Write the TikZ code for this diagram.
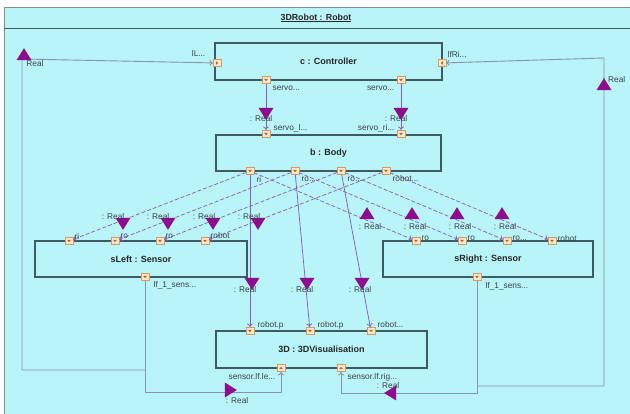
\documentclass[tikz,border=0pt]{standalone}
\usepackage{fontspec}
\setmainfont{Liberation Sans}
\usetikzlibrary{shapes.geometric,arrows.meta}
\definecolor{bg}{HTML}{B8F4F8}
\definecolor{frameline}{HTML}{7E9098}
\definecolor{boxline}{HTML}{3E5A62}
\definecolor{conn}{HTML}{8A5CB8}
\definecolor{loopc}{HTML}{8894AC}
\definecolor{flow}{HTML}{8E0C8E}
\definecolor{portfill}{HTML}{FBE8CC}
\definecolor{portline}{HTML}{D49A60}
\definecolor{portmark}{HTML}{B06A30}
\definecolor{txt}{HTML}{3A4248}
\tikzset{
  part/.style={draw=boxline, line width=1.2pt, fill=bg, inner sep=0pt,
    font=\bfseries\fontsize{9}{11}\selectfont, text=black!85},
  portbox/.style={rectangle, draw=portline, fill=portfill, line width=0.5pt,
    minimum size=7.5pt, inner sep=0pt},
  portd/.style={portbox, path picture={\fill[portmark] ([xshift=-1.8pt,yshift=1pt]path picture bounding box.center) -- ++(3.6pt,0) -- ++(-1.8pt,-2.2pt) -- cycle;}},
  portu/.style={portbox, path picture={\fill[portmark] ([xshift=-1.8pt,yshift=-1pt]path picture bounding box.center) -- ++(3.6pt,0) -- ++(-1.8pt,2.2pt) -- cycle;}},
  portr/.style={portbox, path picture={\fill[portmark] ([xshift=-1pt,yshift=1.8pt]path picture bounding box.center) -- ++(0,-3.6pt) -- ++(2.2pt,1.8pt) -- cycle;}},
  portl/.style={portbox, path picture={\fill[portmark] ([xshift=1pt,yshift=1.8pt]path picture bounding box.center) -- ++(0,-3.6pt) -- ++(-2.2pt,1.8pt) -- cycle;}},
  lbl/.style={font=\fontsize{8.3}{9}\selectfont, text=txt, inner sep=0.5pt},
  solidc/.style={draw=conn, line width=0.75pt, -{To[length=3.5pt,width=6pt]}},
  dashc/.style={draw=conn, line width=0.7pt, dash pattern=on 4pt off 2pt, -{To[length=3.5pt,width=6pt]}},
  loopa/.style={draw=loopc, line width=0.9pt, -{To[length=3.5pt,width=6pt]}},
  flowtri/.style={isosceles triangle, isosceles triangle stretches, fill=flow,
    minimum width=15pt, minimum height=12pt, inner sep=0pt},
}
\begin{document}
\begin{tikzpicture}[x=1pt,y=-1pt]
\useasboundingbox (0,0) rectangle (630,414);
\clip (0,0) rectangle (630,414);
\fill[white] (0,0) rectangle (630,414);
% frame
\draw[frameline, fill=bg, line width=1pt] (4,8) rectangle (640,424);
\draw[boxline, line width=0.9pt] (4,28) -- (640,28);
\node[font=\bfseries\fontsize{8.8}{10}\selectfont, text=black!85] (title) at (316,18) {\underline{3DRobot : Robot}};

% parts
\node[part, minimum width=227pt, minimum height=37pt] (ctrl) at (328.5,61.5) {c : Controller};
\node[part, minimum width=225pt, minimum height=36pt] (body) at (328.5,153) {b : Body};
\node[part, minimum width=212pt, minimum height=36pt] (sl) at (141,259) {sLeft : Sensor};
\node[part, minimum width=210pt, minimum height=36pt] (sr) at (488,259) {sRight : Sensor};
\node[part, minimum width=211pt, minimum height=37pt] (vis) at (321.5,349.5) {3D : 3DVisualisation};

% ports
\node[portr] (cl) at (217,63) {};
\node[portl] (cr) at (442,63) {};
\node[portd] (cb1) at (266,80) {};
\node[portd] (cb2) at (401,80) {};
\node[portd] (bt1) at (266,134) {};
\node[portd] (bt2) at (401,134) {};
\node[portd] (bb1) at (250,171) {};
\node[portd] (bb2) at (295,171) {};
\node[portd] (bb3) at (341,171) {};
\node[portd] (bb4) at (386,171) {};
\node[portd] (sl1) at (69,241) {};
\node[portd] (sl2) at (115,241) {};
\node[portd] (sl3) at (160,241) {};
\node[portd] (sl4) at (205,241) {};
\node[portd] (slb) at (145,277) {};
\node[portd] (sr1) at (416,241) {};
\node[portd] (sr2) at (462,241) {};
\node[portd] (sr3) at (507,241) {};
\node[portd] (sr4) at (552,241) {};
\node[portd] (srb) at (477,277) {};
\node[portd] (vt1) at (250,331) {};
\node[portd] (vt2) at (310,331) {};
\node[portd] (vt3) at (371,331) {};
\node[portu] (vb1) at (281,368) {};
\node[portu] (vb2) at (341,368) {};

% loop coordinates
\coordinate (jl) at (145,370);
\coordinate (ll1) at (22,370);
\coordinate (ll2) at (22,59);
\coordinate (bl1) at (145,392);
\coordinate (bl2) at (281,392);
\coordinate (jr) at (477,386);
\coordinate (rr1) at (604,386);
\coordinate (rr2) at (604,58);
\coordinate (br1) at (477,393);
\coordinate (br2) at (341,393);

% connectors
\draw[solidc] (cb1) -- (bt1);
\draw[solidc] (cb2) -- (bt2);
\foreach \i in {1,2,3,4} {
  \draw[dashc] (bb\i) -- (sl\i);
  \draw[dashc] (bb\i) -- (sr\i);
}
\draw[solidc] (bb1) -- (vt1);
\draw[solidc] (bb2) -- (vt2);
\draw[solidc] (bb3) -- (vt3);
\draw[loopa] (slb) -- (bl1) -- (bl2) -- (vb1);
\draw[loopa] (srb) -- (br1) -- (br2) -- (vb2);
\draw[loopa] (jl) -- (ll1) -- (ll2) -- (cl);
\draw[loopa] (jr) -- (rr1) -- (rr2) -- (cr);

% flow markers
\node[flowtri, shape border rotate=270] (f1) at (266,112) {};
\node[flowtri, shape border rotate=270] (f2) at (401,112) {};
\node[flowtri, shape border rotate=225] (f3) at (123,222) {};
\node[flowtri, shape border rotate=225] (f4) at (168,222) {};
\node[flowtri, shape border rotate=225] (f5) at (213,222) {};
\node[flowtri, shape border rotate=225] (f6) at (258,222) {};
\node[flowtri, shape border rotate=95] (f7) at (367,215) {};
\node[flowtri, shape border rotate=95] (f8) at (412,215) {};
\node[flowtri, shape border rotate=95] (f9) at (457,215) {};
\node[flowtri, shape border rotate=95] (f10) at (502,215) {};
\node[flowtri, shape border rotate=270] (f11) at (252,282) {};
\node[flowtri, shape border rotate=270] (f12) at (307,282) {};
\node[flowtri, shape border rotate=270] (f13) at (362,282) {};
\node[flowtri, shape border rotate=90] (f14) at (24,56) {};
\node[flowtri, shape border rotate=90] (f15) at (604,86) {};
\node[flowtri, shape border rotate=0] (f16) at (229,390) {};
\node[flowtri, shape border rotate=180] (f17) at (392,393) {};

% labels
\node[lbl, anchor=east] (t1) at (206,53) {lL...};
\node[lbl, anchor=west] (t2) at (447,54) {lfRi...};
\node[lbl, anchor=west] (t3) at (272,88) {servo...};
\node[lbl, anchor=east] (t4) at (395,88) {servo...};
\node[lbl] (t5) at (261,119) {: Real};
\node[lbl] (t6) at (396,119) {: Real};
\node[lbl, anchor=west] (t7) at (273,128) {servo\_l...};
\node[lbl, anchor=east] (t8) at (395,128) {servo\_ri...};
\node[lbl, anchor=west] (t9) at (256,179) {ri};
\node[lbl, anchor=west] (t10) at (301,179) {ro...};
\node[lbl, anchor=west] (t11) at (347,179) {ro...};
\node[lbl, anchor=west] (t12) at (392,179) {robot...};
\node[lbl] (t13) at (113,217) {: Real};
\node[lbl] (t14) at (158,217) {: Real};
\node[lbl] (t15) at (204,217) {: Real};
\node[lbl] (t16) at (249,217) {: Real};
\node[lbl, anchor=west] (t17) at (74,236) {ri};
\node[lbl, anchor=west] (t18) at (120,236) {ro};
\node[lbl, anchor=west] (t19) at (165,236) {ro};
\node[lbl, anchor=west] (t20) at (210,236) {robot};
\node[lbl] (t21) at (370,227) {: Real};
\node[lbl] (t22) at (415,227) {: Real};
\node[lbl] (t23) at (460,227) {: Real};
\node[lbl] (t24) at (505,227) {: Real};
\node[lbl, anchor=west] (t25) at (421,238.5) {ro};
\node[lbl, anchor=west] (t26) at (467,238.5) {ro};
\node[lbl, anchor=west] (t27) at (512,238.5) {ro...};
\node[lbl, anchor=west] (t28) at (557,238.5) {robot};
\node[lbl, anchor=west] (t29) at (153,285) {lf\_1\_sens...};
\node[lbl, anchor=west] (t30) at (485,286) {lf\_1\_sens...};
\node[lbl] (t31) at (245,290) {: Real};
\node[lbl] (t32) at (302,290) {: Real};
\node[lbl] (t33) at (360,290) {: Real};
\node[lbl, anchor=west] (t34) at (257,325) {robot.p};
\node[lbl, anchor=west] (t35) at (317,325) {robot.p};
\node[lbl, anchor=west] (t36) at (377,325) {robot...};
\node[lbl, anchor=east] (t37) at (276,377) {sensor.lf.le...};
\node[lbl, anchor=west] (t38) at (347,377) {sensor.lf.rig...};
\node[lbl] (t39) at (237,401) {: Real};
\node[lbl] (t40) at (388,386) {: Real};
\node[lbl] (t41) at (35,64) {Real};
\node[lbl] (t42) at (614,80) {: Real};
\end{tikzpicture}
\end{document}
